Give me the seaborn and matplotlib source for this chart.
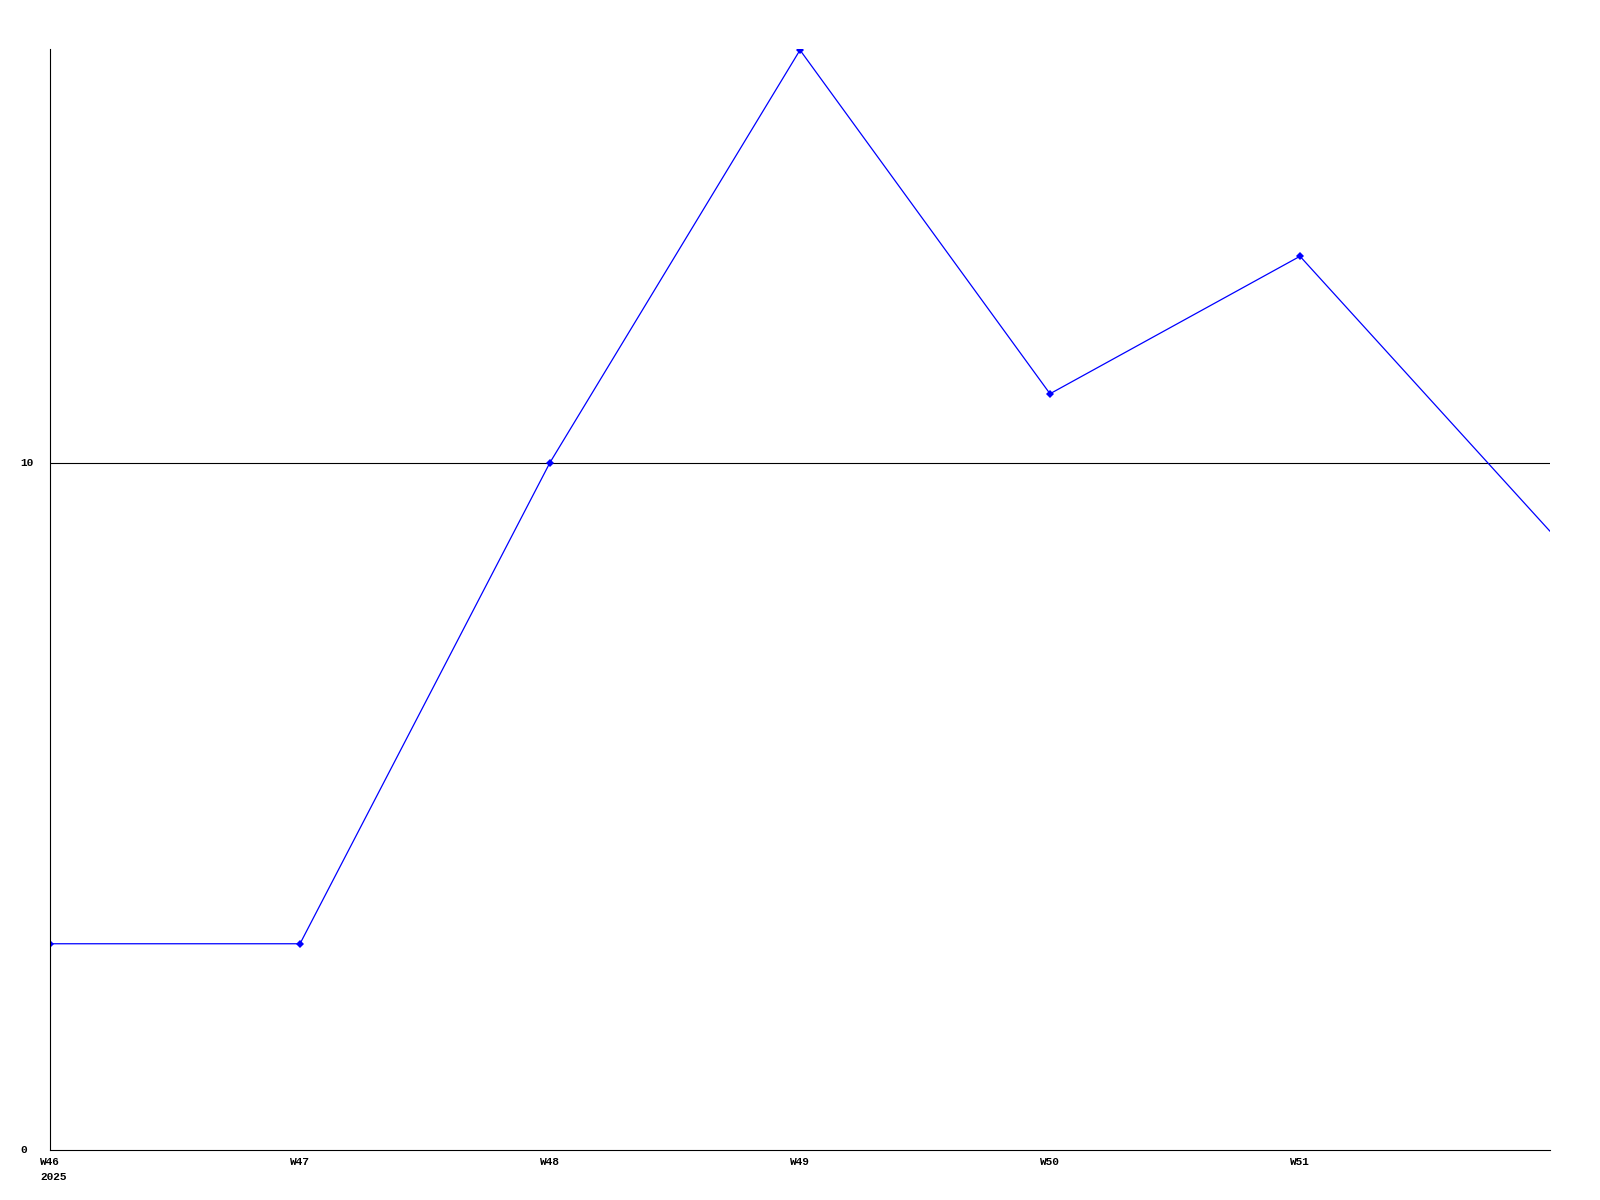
import matplotlib
matplotlib.use("Agg")
import matplotlib.pyplot as plt
import seaborn as sns
import pandas as pd

weeks = ["W46", "W47", "W48", "W49", "W50", "W51", "W52"]
values = [3, 3, 10, 16, 11, 13, 9]
tick_labels = ["W46\n2025", "W47", "W48", "W49", "W50", "W51"]
y_ticks = [0, 10]

df = pd.DataFrame({"idx": range(len(weeks)), "week": weeks, "value": values})

sns.set_theme(style="white")
plt.rcParams["font.family"] = ["Liberation Mono", "DejaVu Sans Mono"]

fig = plt.figure(figsize=(16, 12), dpi=100)
ax = fig.add_axes([50 / 1600, 50 / 1200, 1500 / 1600, 1101 / 1200])

sns.lineplot(data=df, x="idx", y="value", ax=ax, color="#0000ff", linewidth=0.9,
             marker="D", markersize=4, markeredgewidth=0,
             markevery=list(range(len(tick_labels))), clip_on=False)
line = ax.lines[0]
line.set_clip_on(True)

ax.set_xlim(0, len(weeks) - 1)
ax.set_ylim(0, 16.015)

ax.axhline(10, color="black", linewidth=0.8, zorder=1)

ax.set_xticks(range(len(tick_labels)))
ax.set_xticklabels([])
ax.set_yticks(y_ticks)
ax.set_yticklabels([])
ax.tick_params(axis="both", length=0)

for i, lab in enumerate(tick_labels):
    ax.annotate(lab, xy=(i, 0), xycoords=("data", "axes fraction"),
                xytext=(-10, -7), textcoords="offset pixels",
                ha="left", va="top", fontsize=8, fontweight="bold",
                color="black", linespacing=1.6, annotation_clip=False)

for v in y_ticks:
    ax.annotate(str(v), xy=(0, v), xycoords=("axes fraction", "data"),
                xytext=(-30, 0), textcoords="offset pixels",
                ha="left", va="center", fontsize=8, fontweight="bold",
                color="black", annotation_clip=False)

ax.set_xlabel("")
ax.set_ylabel("")

for s in ["top", "right"]:
    ax.spines[s].set_visible(False)
for s in ["left", "bottom"]:
    ax.spines[s].set_color("black")
    ax.spines[s].set_linewidth(0.8)

fig.savefig("out.png", dpi=100, facecolor="white")
